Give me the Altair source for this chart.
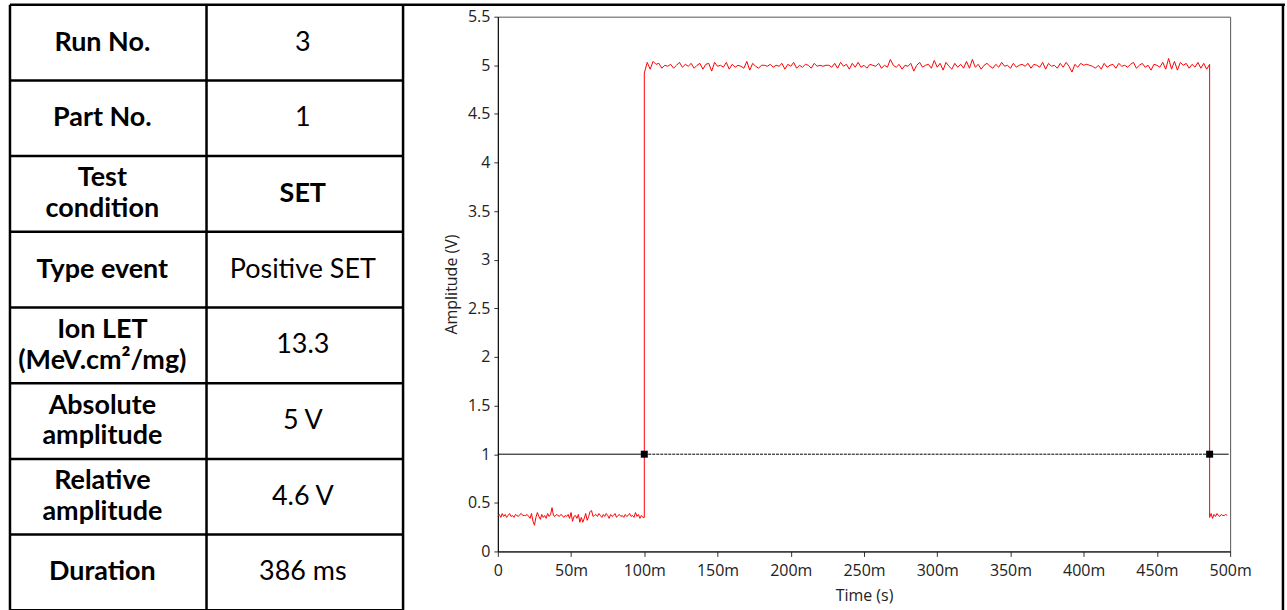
import altair as alt
import numpy as np
import pandas as pd

# ---------------- table content ----------------
row_labels = ["Run No.", "Part No.", "Test\ncondition", "Type event",
              "Ion LET\n(MeV.cm²/mg)", "Absolute\namplitude",
              "Relative\namplitude", "Duration"]
row_values = ["3", "1", "SET", "Positive SET", "13.3", "5 V", "4.6 V", "386 ms"]
value_bold = [False, False, True, False, False, False, False, False]

# ---------------- signal ----------------
# baseline before the event, one sample per ms from 0 to 100 ms
low_start = [0.36, 0.38, 0.35, 0.39, 0.36, 0.38, 0.35, 0.37, 0.39, 0.36,
             0.37, 0.35, 0.38, 0.37, 0.36, 0.38, 0.39, 0.37, 0.37, 0.37,
             0.38, 0.36, 0.34, 0.39, 0.31, 0.27, 0.35, 0.40, 0.36, 0.33,
             0.38, 0.35, 0.37, 0.34, 0.39, 0.36, 0.38, 0.45, 0.37, 0.36,
             0.38, 0.37, 0.36, 0.38, 0.37, 0.35, 0.37, 0.36, 0.38, 0.34,
             0.40, 0.31, 0.36, 0.37, 0.34, 0.38, 0.30, 0.35, 0.30, 0.34,
             0.39, 0.32, 0.36, 0.41, 0.42, 0.36, 0.37, 0.38, 0.36, 0.39,
             0.37, 0.35, 0.38, 0.36, 0.39, 0.37, 0.34, 0.38, 0.36, 0.37,
             0.39, 0.35, 0.37, 0.38, 0.36, 0.37, 0.35, 0.38, 0.36, 0.37,
             0.39, 0.36, 0.37, 0.35, 0.40, 0.36, 0.38, 0.34, 0.37, 0.35,
             0.35]
low_start_t0, low_start_dt = 0, 1
# high level during the event, one sample per 2 ms from 100 to 486 ms
high_level = [4.92, 5.03, 4.96, 5.04, 5.01, 5.02, 4.97, 5.00, 4.99, 5.01,
              4.97, 5.00, 5.03, 4.98, 5.01, 4.99, 5.02, 4.97, 5.00, 5.02,
              4.96, 5.01, 5.02, 4.94, 5.03, 4.99, 5.00, 4.98, 5.03, 4.96,
              5.01, 4.98, 5.00, 4.99, 4.97, 5.04, 4.95, 5.02, 4.99, 4.97,
              5.00, 5.00, 4.99, 5.01, 4.98, 5.00, 4.99, 5.02, 4.96, 5.01,
              4.99, 5.03, 4.97, 5.00, 4.98, 5.01, 5.00, 4.97, 5.02, 4.99,
              5.00, 4.99, 5.00, 5.00, 4.98, 5.02, 4.97, 5.03, 4.99, 5.01,
              4.96, 5.02, 4.98, 5.03, 4.98, 5.00, 4.97, 5.01, 5.00, 4.99,
              5.02, 4.97, 5.00, 4.98, 5.06, 5.00, 4.98, 5.01, 4.96, 5.00,
              4.99, 5.02, 4.94, 5.00, 5.03, 4.98, 5.00, 5.01, 4.97, 5.05,
              4.98, 5.02, 4.95, 5.03, 4.99, 4.96, 5.02, 4.98, 5.01, 4.97,
              5.04, 4.97, 5.06, 4.98, 5.01, 4.96, 5.00, 5.02, 4.99, 4.97,
              5.01, 4.98, 5.03, 4.99, 5.00, 4.97, 5.02, 4.98, 5.00, 5.01,
              4.99, 5.02, 4.97, 5.01, 5.00, 4.98, 5.03, 4.96, 5.02, 4.99,
              5.00, 4.97, 5.02, 4.98, 5.03, 4.99, 4.93, 5.01, 4.98, 5.02,
              5.00, 5.01, 5.00, 4.99, 4.97, 5.00, 4.96, 5.02, 4.98, 5.00,
              5.01, 4.97, 5.02, 4.99, 5.00, 4.98, 5.01, 5.03, 4.97, 5.00,
              5.02, 4.98, 5.00, 4.95, 5.01, 5.00, 4.98, 5.03, 4.96, 5.07,
              4.96, 5.04, 4.95, 5.03, 5.00, 5.02, 4.97, 5.01, 4.98, 5.03,
              4.97, 5.02, 4.96, 5.01]
high_t0, high_dt = 100, 2
# baseline after the event, one sample per ms from 486 ms
low_end = [0.35, 0.39, 0.34, 0.38, 0.36, 0.39, 0.37, 0.36, 0.38, 0.37,
           0.37, 0.38, 0.37]
low_end_t0, low_end_dt = 486, 1

threshold_v = 1.0
crossings_ms = [100, 486]
threshold_end_ms = 499

x_ticks = [0, 50, 100, 150, 200, 250, 300, 350, 400, 450, 500]
y_ticks = [0, 0.5, 1, 1.5, 2, 2.5, 3, 3.5, 4, 4.5, 5, 5.5]

# ---------------- data frames ----------------
t_all = (list(low_start_t0 + low_start_dt * np.arange(len(low_start)))
         + list(high_t0 + high_dt * np.arange(len(high_level)))
         + list(low_end_t0 + low_end_dt * np.arange(len(low_end))))
t_all = [float(t) for t in t_all]
v_all = low_start + high_level + low_end
sig = pd.DataFrame({"t": t_all, "v": v_all, "i": range(len(v_all))})

thr_solid = pd.DataFrame({"t0": [0, crossings_ms[1]],
                          "t1": [crossings_ms[0], threshold_end_ms],
                          "v": [threshold_v, threshold_v]})
thr_dash = pd.DataFrame({"t0": [crossings_ms[0]], "t1": [crossings_ms[1]],
                         "v": [threshold_v]})
marks = pd.DataFrame({"t": crossings_ms, "v": [threshold_v] * 2})

n_rows = len(row_labels)
tbl = pd.DataFrame({"label": row_labels, "value": row_values,
                    "bold": value_bold,
                    "nlines": [s.count("\n") + 1 for s in row_labels],
                    "yc": [k + 0.5 for k in range(n_rows)]})
hlines = pd.DataFrame({"k": list(range(n_rows + 1))})
vlines = pd.DataFrame({"c": [0, 1, 2]})

# ---------------- table chart ----------------
TW, TH = 412, 536
TX = alt.Scale(domain=[-0.0457, 2.0457], nice=False, zero=False)
TY = alt.Scale(domain=[0.1582, 7.2224], nice=False, zero=False, reverse=True)
OUTER_RIGHT = 6.487
OUTER_RIGHT_LINE = 6.477
LW = 2.5
TFONT = "Lato"
TSIZE = 27
LH = 31

h_rules = alt.Chart(hlines).mark_rule(color="black", strokeWidth=LW).encode(
    y=alt.Y("k:Q", scale=TY, axis=None),
    x=alt.X("x0:Q", scale=TX, axis=None), x2="x1:Q"
).transform_calculate(x0="0", x1="2")

outer_top = alt.Chart(pd.DataFrame({"k": [0]})).mark_rule(
    color="black", strokeWidth=LW).encode(
    y=alt.Y("k:Q", scale=TY, axis=None),
    x=alt.X("x0:Q", scale=TX, axis=None), x2="x1:Q"
).transform_calculate(x0="2", x1=str(OUTER_RIGHT))

outer_right = alt.Chart(pd.DataFrame({"c": [OUTER_RIGHT_LINE]})).mark_rule(
    color="black", strokeWidth=LW).encode(
    x=alt.X("c:Q", scale=TX, axis=None),
    y=alt.Y("y0:Q", scale=TY, axis=None), y2="y1:Q"
).transform_calculate(y0="0", y1=str(n_rows))

v_rules = alt.Chart(vlines).mark_rule(color="black", strokeWidth=LW).encode(
    x=alt.X("c:Q", scale=TX, axis=None),
    y=alt.Y("y0:Q", scale=TY, axis=None), y2="y1:Q"
).transform_calculate(y0="0", y1=str(n_rows))


def label_layer(nl):
    return alt.Chart(tbl).mark_text(
        font=TFONT, fontSize=TSIZE, fontWeight="bold", color="black",
        lineBreak="\n", lineHeight=LH, align="center", baseline="middle",
        dy=-(nl - 1) * LH / 2
    ).encode(
        x=alt.X("xc:Q", scale=TX, axis=None),
        y=alt.Y("yc:Q", scale=TY, axis=None),
        text="label:N"
    ).transform_filter(f"datum.nlines == {nl}").transform_calculate(xc="0.47")


lab_one = label_layer(1)
lab_two = label_layer(2)

val_text = alt.Chart(tbl).mark_text(
    font=TFONT, fontSize=TSIZE, color="black",
    align="center", baseline="middle"
).encode(
    x=alt.X("xc:Q", scale=TX, axis=None),
    y=alt.Y("yc:Q", scale=TY, axis=None),
    text="value:N"
).transform_filter("!datum.bold").transform_calculate(xc="1.49")

val_text_b = alt.Chart(tbl).mark_text(
    font=TFONT, fontSize=TSIZE, fontWeight="bold", color="black",
    align="center", baseline="middle"
).encode(
    x=alt.X("xc:Q", scale=TX, axis=None),
    y=alt.Y("yc:Q", scale=TY, axis=None),
    text="value:N"
).transform_filter("datum.bold").transform_calculate(xc="1.49")

table = alt.layer(h_rules, outer_top, outer_right, v_rules,
                  lab_one, lab_two, val_text, val_text_b).properties(
    width=TW, height=TH,
    view=alt.ViewBackground(fill="white", stroke="transparent")
)

# ---------------- waveform chart ----------------
PFONT = "Open Sans"
XS = alt.Scale(domain=[0, 500], nice=False, zero=False)
YS = alt.Scale(domain=[0, 5.5], nice=False, zero=False)
XA = alt.Axis(values=x_ticks, title="Time (s)", grid=False, labelFlush=False,
              labelExpr="datum.value == 0 ? '0' : datum.value + 'm'",
              tickSize=5, labelPadding=6, titlePadding=9)
YA = alt.Axis(values=y_ticks, title="Amplitude (V)", grid=False, format="~g",
              labelFlush=False, tickSize=4, labelPadding=4, titlePadding=8)

signal = alt.Chart(sig).mark_line(color="#ff0000", strokeWidth=1).encode(
    x=alt.X("t:Q", scale=XS, axis=XA),
    y=alt.Y("v:Q", scale=YS, axis=YA),
    order="i:Q"
)
solid = alt.Chart(thr_solid).mark_rule(color="black", strokeWidth=1).encode(
    x=alt.X("t0:Q", scale=XS, axis=XA), x2="t1:Q",
    y=alt.Y("v:Q", scale=YS, axis=YA)
)
dashed = alt.Chart(thr_dash).mark_rule(color="black", strokeWidth=1,
                                       strokeDash=[3, 1]).encode(
    x=alt.X("t0:Q", scale=XS, axis=XA), x2="t1:Q",
    y=alt.Y("v:Q", scale=YS, axis=YA)
)
squares = alt.Chart(marks).mark_square(size=49, color="black", filled=True,
                                       opacity=1).encode(
    x=alt.X("t:Q", scale=XS, axis=XA),
    y=alt.Y("v:Q", scale=YS, axis=YA)
)

plot = alt.layer(signal, solid, dashed, squares).properties(width=734, height=536)

chart = alt.hconcat(table, plot, spacing=86, bounds="flush").properties(
    padding={"left": 0, "top": 2, "right": 0, "bottom": 0},
    background="white"
).configure_view(
    stroke="#555555", strokeWidth=1
).configure_axis(
    labelFont=PFONT, labelFontSize=16, labelColor="#222222",
    titleFont=PFONT, titleFontSize=16, titleFontWeight="normal",
    titleColor="#222222", domainColor="black", tickColor="#333333"
)

chart.save("out.html", embed_options={"renderer": "svg", "actions": False})
